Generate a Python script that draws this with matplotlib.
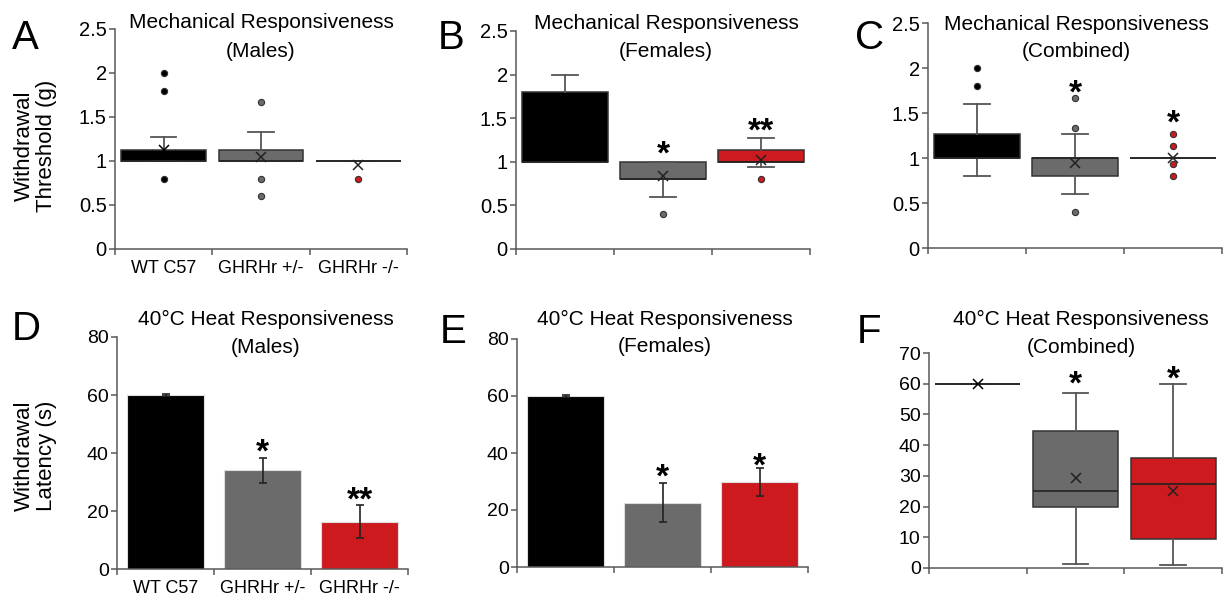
import numpy as np
import matplotlib
matplotlib.use("Agg")
from matplotlib import pyplot as plt

plt.rcParams['font.family'] = ['Liberation Sans', 'DejaVu Sans']

# categories
groups = ["WT C57", "GHRHr +/-", "GHRHr -/-"]

# mechanical, males (box stats)
mm_q1 = [1.0, 1.0, 1.0]
mm_med = [1.0, 1.0, 1.0]
mm_q3 = [1.13, 1.13, 1.0]
mm_lo = [1.0, 1.0, 1.0]
mm_hi = [1.27, 1.33, 1.0]
mm_mean = [1.13, 1.04, 0.96]
mm_fliers = [[2.0, 1.8, 0.8], [1.67, 0.8, 0.6], [0.8]]

# mechanical, females
mf_q1 = [1.0, 0.8, 1.0]
mf_med = [1.0, 0.8, 1.0]
mf_q3 = [1.8, 1.0, 1.14]
mf_lo = [1.0, 0.6, 0.94]
mf_hi = [2.0, 1.0, 1.27]
mf_mean = [1.4, 0.84, 1.02]
mf_fliers = [[], [0.4], [0.8]]

# mechanical, combined
mc_q1 = [1.0, 0.8, 1.0]
mc_med = [1.0, 1.0, 1.0]
mc_q3 = [1.27, 1.0, 1.0]
mc_lo = [0.8, 0.6, 1.0]
mc_hi = [1.6, 1.27, 1.0]
mc_mean = [1.15, 0.95, 1.0]
mc_fliers = [[2.0, 1.8], [1.67, 1.33, 0.4], [1.27, 1.13, 0.93, 0.8]]

# heat, males / females (means and errors)
hm_mean = [60.0, 34.0, 16.3]
hm_err = [0.2, 4.3, 5.6]
hf_mean = [60.0, 22.6, 29.9]
hf_err = [0.2, 6.8, 5.0]

# heat, combined box stats
hc_q1 = [60.0, 19.8, 9.6]
hc_med = [60.0, 25.1, 27.2]
hc_q3 = [60.0, 44.7, 35.7]
hc_lo = [60.0, 1.3, 0.9]
hc_hi = [60.0, 57.1, 60.0]
hc_mean = [60.0, 29.4, 25.2]
hc_fliers = [[], [], []]

# significance marks
mf_stars = ["", "*", "**"]
mf_star_y = [0, 1.20, 1.46]
mc_stars = ["", "*", "*"]
mc_star_y = [0, 1.83, 1.50]
hm_stars = ["", "*", "**"]
hm_star_y = [0, 43.8, 27.2]
hf_stars = ["", "*", "*"]
hf_star_y = [0, 35.1, 39.0]
hc_stars = ["", "*", "*"]
hc_star_y = [0, 63.2, 64.8]

colors = ["#000000", "#6b6b6b", "#cc1a1e"]
mean_colors = ["#000000", "#222222", "#222222"]
W, H = 1223, 596
x = np.arange(len(groups))

fig = plt.figure(figsize=(W / 100, H / 100), dpi=100)


def make_ax(left, right, top, bottom):
    return fig.add_axes([left / W, 1 - bottom / H, (right - left) / W, (bottom - top) / H])


def style_ax(ax, ymax, ystep, labels, ysize):
    ax.set_xlim(-0.5, 2.5)
    ax.set_ylim(0, ymax)
    ticks = np.arange(0, ymax + ystep / 2, ystep)
    ax.set_yticks(ticks)
    ax.set_yticklabels([("%g" % v) for v in ticks])
    for s in ["top", "right"]:
        ax.spines[s].set_visible(False)
    for s in ["left", "bottom"]:
        ax.spines[s].set_color("#595959")
        ax.spines[s].set_linewidth(1.1)
    ax.tick_params(axis="y", direction="out", length=4, width=1.1, color="#595959",
                   labelsize=ysize, pad=2)
    ax.set_xticks(x)
    ax.set_xticklabels(labels if labels else ["", "", ""])
    ax.tick_params(axis="x", which="major", length=0, labelsize=13, pad=8)
    ax.set_xticks([-0.5, 0.5, 1.5, 2.5], minor=True)
    ax.tick_params(axis="x", which="minor", direction="out", length=4, width=1.1,
                   color="#595959")


def boxes(ax, q1, med, q3, lo, hi, mean, fliers):
    stats = []
    for i in range(3):
        stats.append(dict(q1=q1[i], med=med[i], q3=q3[i], whislo=lo[i], whishi=hi[i],
                          mean=mean[i], fliers=fliers[i]))
    bp = ax.bxp(stats, positions=x, widths=0.87, capwidths=0.26, patch_artist=True,
                showmeans=True, manage_ticks=False,
                boxprops=dict(edgecolor="#333333", linewidth=1.1),
                medianprops=dict(color="#222222", linewidth=1.2),
                whiskerprops=dict(color="#555555", linewidth=1.3),
                capprops=dict(color="#555555", linewidth=1.3),
                meanprops=dict(marker="x", markeredgecolor="#222222", markersize=7,
                               markeredgewidth=1.1),
                flierprops=dict(marker="o", markersize=4.5, markeredgecolor="#333333",
                                markeredgewidth=0.8))
    for i, b in enumerate(bp["boxes"]):
        b.set_facecolor(colors[i])
    for i, f in enumerate(bp["fliers"]):
        f.set_markerfacecolor(colors[i])
    for i, m in enumerate(bp["means"]):
        m.set_markeredgecolor(mean_colors[i])


def bars(ax, vals, errs):
    ax.bar(x, vals, width=0.79, color=colors, edgecolor="#dddddd", linewidth=0.8,
           yerr=errs, capsize=3,
           error_kw=dict(ecolor="#222222", elinewidth=1.2, capthick=1.2))


def stars(ax, marks, ys):
    for i in range(3):
        if marks[i]:
            ax.annotate(marks[i], xy=(x[i], ys[i]), xytext=(0, -0.58 * 24),
                        textcoords="offset points", ha="center", va="baseline",
                        fontsize=24, fontweight="bold")


def ftext(px, py, s, **kw):
    fig.text(px / W, 1 - py / H, s, **kw)


def title(cx, y1, y2, l1, l2):
    ftext(cx, y1, l1, ha="center", va="baseline", fontsize=15)
    ftext(cx, y2, l2, ha="center", va="baseline", fontsize=15)


# A
axA = make_ax(115, 407, 29, 249)
style_ax(axA, 2.5, 0.5, groups, 14.5)
boxes(axA, mm_q1, mm_med, mm_q3, mm_lo, mm_hi, mm_mean, mm_fliers)
axA.set_ylabel("Withdrawal\nThreshold (g)", fontsize=16, linespacing=1.05)
axA.yaxis.set_label_coords(-0.198, 0.47)
title(261, 28, 57, "Mechanical Responsiveness", "(Males)")

# B
axB = make_ax(516, 810, 31, 249)
style_ax(axB, 2.5, 0.5, None, 14.5)
boxes(axB, mf_q1, mf_med, mf_q3, mf_lo, mf_hi, mf_mean, mf_fliers)
stars(axB, mf_stars, mf_star_y)
title(666, 29, 57, "Mechanical Responsiveness", "(Females)")

# C
axC = make_ax(928, 1222, 23, 248)
style_ax(axC, 2.5, 0.5, None, 14.5)
boxes(axC, mc_q1, mc_med, mc_q3, mc_lo, mc_hi, mc_mean, mc_fliers)
stars(axC, mc_stars, mc_star_y)
title(1076, 30, 57, "Mechanical Responsiveness", "(Combined)")

# D
axD = make_ax(117, 408, 337, 569)
style_ax(axD, 80, 20, groups, 14)
bars(axD, hm_mean, hm_err)
stars(axD, hm_stars, hm_star_y)
axD.set_ylabel("Withdrawal\nLatency (s)", fontsize=16, linespacing=1.05)
axD.yaxis.set_label_coords(-0.206, 0.49)
title(266, 325, 353, "40°C Heat Responsiveness", "(Males)")

# E
axE = make_ax(517, 808, 339, 567)
style_ax(axE, 80, 20, None, 14)
bars(axE, hf_mean, hf_err)
stars(axE, hf_stars, hf_star_y)
title(665, 325, 352, "40°C Heat Responsiveness", "(Females)")

# F
axF = make_ax(929, 1222, 353, 568)
style_ax(axF, 70, 10, None, 14)
boxes(axF, hc_q1, hc_med, hc_q3, hc_lo, hc_hi, hc_mean, hc_fliers)
stars(axF, hc_stars, hc_star_y)
title(1081, 325, 353, "40°C Heat Responsiveness", "(Combined)")

# panel letters
for letter, px, py in [("A", 12, 49), ("B", 438, 49), ("C", 855, 49),
                       ("D", 12, 340), ("E", 440, 343), ("F", 857, 343)]:
    ftext(px, py, letter, ha="left", va="baseline", fontsize=29)

fig.savefig("out.png", dpi=100)
